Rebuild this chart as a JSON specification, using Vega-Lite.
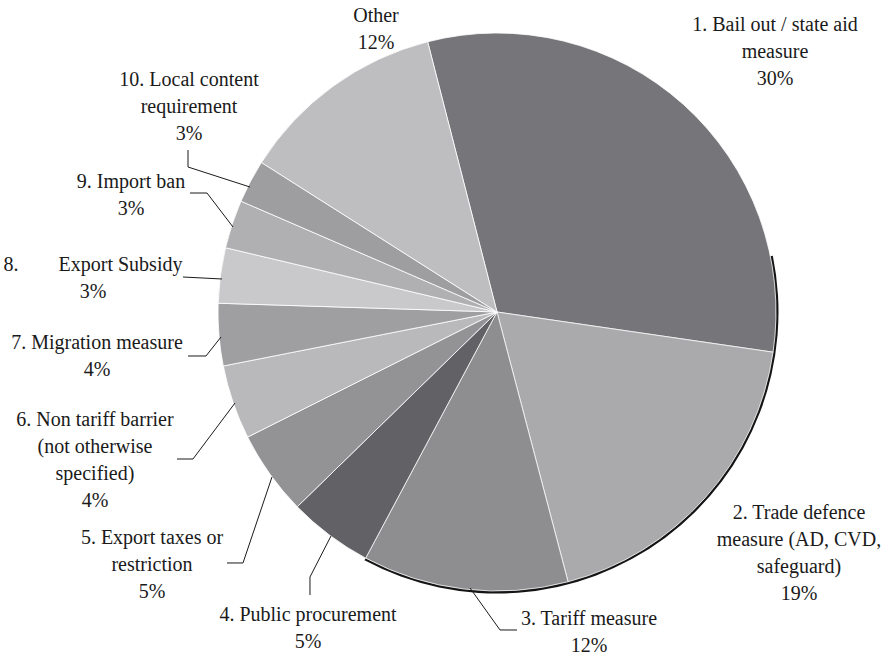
{
  "$schema": "https://vega.github.io/schema/vega-lite/v6.json",
  "width": 784,
  "height": 624,
  "autosize": {"type": "none"},
  "padding": {"left": 105, "top": 0, "right": 0, "bottom": 30},
  "background": "white",
  "config": {"view": {"stroke": null}, "font": "Liberation Serif, Times New Roman, serif"},
  "datasets": {
    "slices": [
      {"idx": 1, "measure": "1. Bail out / state aid measure", "value": 31.3},
      {"idx": 2, "measure": "2. Trade defence measure (AD, CVD, safeguard)", "value": 18.6},
      {"idx": 3, "measure": "3. Tariff measure", "value": 11.9},
      {"idx": 4, "measure": "4. Public procurement", "value": 4.9},
      {"idx": 5, "measure": "5. Export taxes or restriction", "value": 4.9},
      {"idx": 6, "measure": "6. Non tariff barrier (not otherwise specified)", "value": 4.3},
      {"idx": 7, "measure": "7. Migration measure", "value": 3.6},
      {"idx": 8, "measure": "8. Export Subsidy", "value": 3.2},
      {"idx": 9, "measure": "9. Import ban", "value": 2.8},
      {"idx": 10, "measure": "10. Local content requirement", "value": 2.5},
      {"idx": 11, "measure": "Other", "value": 12.0}
    ],
    "shadow": [{"start": 25.8, "end": 61.8}],
    "labels": [
      {"label": "1. Bail out / state aid\nmeasure\n30%", "x": 99.64, "y": 100.54},
      {"label": "2. Trade defence\nmeasure (AD, CVD,\nsafeguard)\n19%", "x": 108.24, "y": -74.37},
      {"label": "3. Tariff measure\n12%", "x": 32.97, "y": -112.01},
      {"label": "4. Public procurement\n5%", "x": -67.74, "y": -110.93},
      {"label": "5. Export taxes or\nrestriction\n5%", "x": -123.66, "y": -83.33},
      {"label": "6. Non tariff barrier\n(not otherwise\nspecified)\n4%", "x": -144.09, "y": -41.04},
      {"label": "7. Migration measure\n4%", "x": -143.37, "y": -13.44},
      {"label": "8.\u00a0\u00a0\u00a0\u00a0\u00a0\u00a0\u00a0\u00a0Export Subsidy\n3%", "x": -144.8, "y": 14.87},
      {"label": "9. Import ban\n3%", "x": -131.18, "y": 44.27},
      {"label": "10. Local content\nrequirement\n3%", "x": -110.39, "y": 81.18},
      {"label": "Other\n12%", "x": -43.37, "y": 104.12}
    ],
    "leaders": [
      {"id": 3, "seq": 1, "x": -9.68, "y": -98.92},
      {"id": 3, "seq": 2, "x": 1.08, "y": -113.98},
      {"id": 3, "seq": 3, "x": 7.17, "y": -113.98},
      {"id": 4, "seq": 1, "x": -59.5, "y": -80.29},
      {"id": 4, "seq": 2, "x": -67.03, "y": -94.98},
      {"id": 4, "seq": 3, "x": -67.03, "y": -101.43},
      {"id": 5, "seq": 1, "x": -80.65, "y": -59.14},
      {"id": 5, "seq": 2, "x": -91.04, "y": -89.96},
      {"id": 5, "seq": 3, "x": -96.77, "y": -89.96},
      {"id": 6, "seq": 1, "x": -93.91, "y": -32.62},
      {"id": 6, "seq": 2, "x": -108.96, "y": -52.69},
      {"id": 6, "seq": 3, "x": -114.7, "y": -52.69},
      {"id": 7, "seq": 1, "x": -98.92, "y": -8.96},
      {"id": 7, "seq": 2, "x": -104.3, "y": -15.77},
      {"id": 7, "seq": 3, "x": -110.75, "y": -15.77},
      {"id": 8, "seq": 1, "x": -112.54, "y": 12.54},
      {"id": 8, "seq": 2, "x": -98.57, "y": 11.83},
      {"id": 9, "seq": 1, "x": -110.04, "y": 42.65},
      {"id": 9, "seq": 2, "x": -103.94, "y": 42.65},
      {"id": 9, "seq": 3, "x": -94.62, "y": 30.47},
      {"id": 10, "seq": 1, "x": -110.75, "y": 58.06},
      {"id": 10, "seq": 2, "x": -110.75, "y": 51.97},
      {"id": 10, "seq": 3, "x": -88.53, "y": 44.8}
    ]
  },
  "layer": [
    {
      "data": {"name": "shadow"},
      "mark": {"type": "arc", "outerRadius": 281.5, "color": "#151515"},
      "encoding": {
        "theta": {"field": "start", "type": "quantitative", "scale": {"domain": [0, 100], "range": [-0.2513, 6.0319]}},
        "theta2": {"field": "end"}
      }
    },
    {
      "data": {"name": "slices"},
      "mark": {"type": "arc", "outerRadius": 279, "stroke": "white", "strokeWidth": 0.8},
      "encoding": {
        "theta": {"field": "value", "type": "quantitative", "stack": true, "scale": {"domain": [0, 100], "range": [-0.2513, 6.0319]}},
        "order": {"field": "idx", "type": "quantitative"},
        "color": {
          "field": "measure",
          "type": "nominal",
          "legend": null,
          "scale": {
            "domain": [
              "1. Bail out / state aid measure",
              "2. Trade defence measure (AD, CVD, safeguard)",
              "3. Tariff measure",
              "4. Public procurement",
              "5. Export taxes or restriction",
              "6. Non tariff barrier (not otherwise specified)",
              "7. Migration measure",
              "8. Export Subsidy",
              "9. Import ban",
              "10. Local content requirement",
              "Other"
            ],
            "range": ["#76767a", "#aaaaad", "#8e8e91", "#626266", "#939396", "#b9b9bc", "#9f9fa2", "#c9c9cc", "#b0b0b3", "#9e9ea1", "#bebec1"]
          }
        }
      }
    },
    {
      "data": {"name": "leaders"},
      "mark": {"type": "line", "color": "#1a1a1a", "strokeWidth": 1},
      "encoding": {
        "x": {"field": "x", "type": "quantitative", "axis": null, "scale": {"domain": [-140.5, 140.5], "nice": false, "zero": false}},
        "y": {"field": "y", "type": "quantitative", "axis": null, "scale": {"domain": [-111.83, 111.83], "nice": false, "zero": false}},
        "detail": {"field": "id", "type": "nominal"},
        "order": {"field": "seq", "type": "quantitative"}
      }
    },
    {
      "data": {"name": "labels"},
      "mark": {"type": "text", "font": "Liberation Serif, Times New Roman, serif", "fontSize": 20, "align": "center", "baseline": "alphabetic", "lineBreak": "\n", "lineHeight": 27, "color": "#1a1a1a"},
      "encoding": {
        "x": {"field": "x", "type": "quantitative", "axis": null, "scale": {"domain": [-140.5, 140.5], "nice": false, "zero": false}},
        "y": {"field": "y", "type": "quantitative", "axis": null, "scale": {"domain": [-111.83, 111.83], "nice": false, "zero": false}},
        "text": {"field": "label", "type": "nominal"}
      }
    }
  ]
}
